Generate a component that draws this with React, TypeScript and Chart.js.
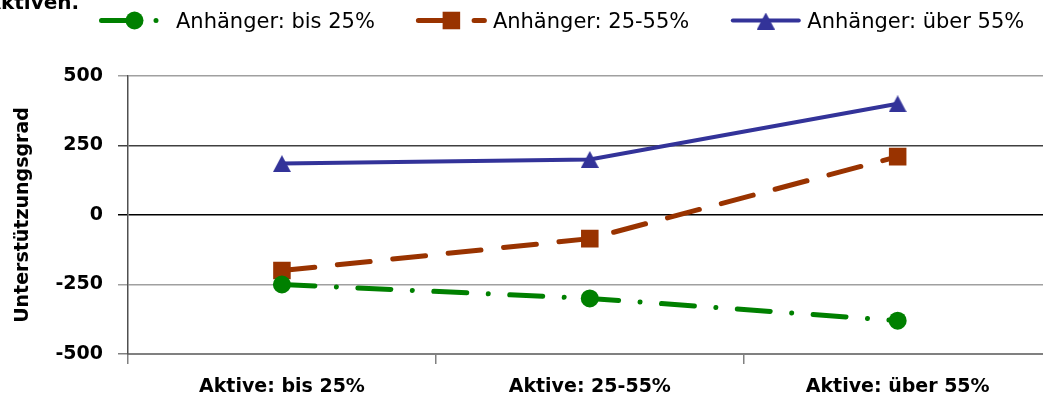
import React, { useEffect, useRef } from "react";
import { Chart, registerables } from "chart.js";

Chart.register(...registerables);

const categories = ["Aktive: bis 25%", "Aktive: 25-55%", "Aktive: über 55%"];
const seriesNames = ["Anhänger: bis 25%", "Anhänger: 25-55%", "Anhänger: über 55%"];
const lowSupport = [-250, -300, -380];
const midSupport = [-200, -85, 210];
const highSupport = [185, 200, 400];
const yTicks = [-500, -250, 0, 250, 500];
const yTitle = "Unterstützungsgrad";
const titleFragment = "Aktiven.";

const GREEN = "#008000";
const BROWN = "#993300";
const BLUE = "#333399";
const FONT = '"DejaVu Sans", sans-serif';

function makeTriangle(color: string, w: number, h: number) {
  const c = document.createElement("canvas");
  c.width = w;
  c.height = h;
  const g = c.getContext("2d")!;
  g.fillStyle = color;
  g.beginPath();
  g.moveTo(w / 2, 0);
  g.lineTo(w, h);
  g.lineTo(0, h);
  g.closePath();
  g.fill();
  return c;
}

function drawMarker(ctx: CanvasRenderingContext2D, style: any, x: number, y: number, r: number, color: string) {
  ctx.save();
  ctx.fillStyle = color;
  if (style === "circle") {
    ctx.beginPath();
    ctx.arc(x, y, r, 0, Math.PI * 2);
    ctx.fill();
  } else if (style === "rect") {
    const s = r * Math.SQRT1_2;
    ctx.fillRect(x - s, y - s, 2 * s, 2 * s);
  } else if (style && style.width) {
    ctx.drawImage(style, x - style.width / 2, y - style.height / 2 + 0.5);
  }
  ctx.restore();
}

const legendPlugin = {
  id: "excelLegend",
  afterDraw(chart: any) {
    const ctx: CanvasRenderingContext2D = chart.ctx;
    ctx.save();
    // clipped title fragment
    ctx.font = `bold 20px ${FONT}`;
    ctx.fillStyle = "#000";
    ctx.textBaseline = "alphabetic";
    const aW = ctx.measureText("A").width;
    ctx.fillText(titleFragment, -aW + 1, 9);

    ctx.font = `21px ${FONT}`;
    let x = 99;
    const y = 20.5;
    const sw = 71;
    chart.data.datasets.forEach((ds: any) => {
      ctx.save();
      ctx.strokeStyle = ds.borderColor;
      ctx.lineWidth = ds.borderWidth;
      ctx.lineCap = "round";
      ctx.setLineDash(ds.borderDash || []);
      ctx.beginPath();
      ctx.moveTo(x + 2.5, y);
      ctx.lineTo(x + sw - 2.5, y);
      ctx.stroke();
      ctx.restore();
      drawMarker(ctx, ds.pointStyle, x + sw / 2, y, ds.pointRadius, ds.pointBackgroundColor);
      ctx.fillStyle = "#000";
      ctx.textBaseline = "alphabetic";
      ctx.fillText(ds.label, x + sw + 6, 28);
      x += sw + 6 + ctx.measureText(ds.label).width + 41;
    });
    ctx.restore();
  },
};

export default function App() {
  const ref = useRef<HTMLCanvasElement>(null);
  useEffect(() => {
    if (!ref.current) return;
    const tri = makeTriangle(BLUE, 18, 17);
    const gridColor = (c: any) => {
      const v = c.tick ? c.tick.value : null;
      if (v === 0) return "#000000";
      if (v === 250) return "#404040";
      if (v === -500) return "#808080";
      return "#a0a0a0";
    };
    const chart = new Chart(ref.current, {
      type: "line",
      data: {
        labels: categories,
        datasets: [
          {
            label: seriesNames[0],
            data: lowSupport,
            borderColor: GREEN,
            backgroundColor: GREEN,
            borderWidth: 5,
            borderDash: [33, 21.5, 0.01, 21.5],
            borderCapStyle: "round",
            pointStyle: "circle",
            pointRadius: 9,
            pointBackgroundColor: GREEN,
            pointBorderColor: GREEN,
            pointBorderWidth: 0,
            tension: 0,
          },
          {
            label: seriesNames[1],
            data: midSupport,
            borderColor: BROWN,
            backgroundColor: BROWN,
            borderWidth: 5,
            borderDash: [33, 22.7],
            borderCapStyle: "round",
            pointStyle: "rect",
            pointRadius: 12.4,
            pointBackgroundColor: BROWN,
            pointBorderColor: BROWN,
            pointBorderWidth: 0,
            tension: 0,
          },
          {
            label: seriesNames[2],
            data: highSupport,
            borderColor: BLUE,
            backgroundColor: BLUE,
            borderWidth: 4,
            pointStyle: tri as any,
            pointRadius: 10,
            pointBackgroundColor: BLUE,
            pointBorderColor: BLUE,
            pointBorderWidth: 0,
            tension: 0,
          },
        ],
      } as any,
      options: {
        responsive: false,
        animation: false,
        layout: { padding: { top: 76, left: 0, right: 5, bottom: 0 } },
        plugins: {
          legend: { display: false },
          tooltip: { enabled: false },
          title: { display: false },
        },
        scales: {
          x: {
            type: "category",
            offset: true,
            afterFit: (s: any) => {
              s.height = 47;
            },
            grid: {
              drawOnChartArea: false,
              drawTicks: true,
              tickLength: 10,
              color: "#808080",
              lineWidth: 1.5,
              offset: true,
            },
            border: { color: "#808080", width: 2 },
            ticks: {
              color: "#000",
              font: { family: FONT, size: 19, weight: "bold" },
              padding: 12,
              maxRotation: 0,
              autoSkip: false,
            },
          },
          y: {
            min: -500,
            max: 500,
            afterBuildTicks: (s: any) => {
              s.ticks = yTicks.map((v) => ({ value: v }));
            },
            afterFit: (s: any) => {
              s.width = 128;
            },
            grid: {
              color: gridColor,
              lineWidth: 1.5,
              drawTicks: true,
              tickLength: 10,
            },
            border: { color: "#505050", width: 1.5 },
            ticks: {
              color: "#000",
              font: { family: FONT, size: 19, weight: "bold" },
              padding: 15,
            },
            title: {
              display: true,
              text: yTitle,
              color: "#000",
              font: { family: FONT, size: 19, weight: "bold" },
              padding: { top: 12, bottom: 0 },
            },
          },
        },
      } as any,
      plugins: [legendPlugin],
    });
    return () => chart.destroy();
  }, []);

  return (
    <div
      style={{
        position: "fixed",
        left: 0,
        top: 0,
        width: 1043,
        height: 401,
        overflow: "hidden",
        background: "#fff",
      }}
    >
      <canvas ref={ref} width={1064} height={401} style={{ display: "block" }} />
    </div>
  );
}
